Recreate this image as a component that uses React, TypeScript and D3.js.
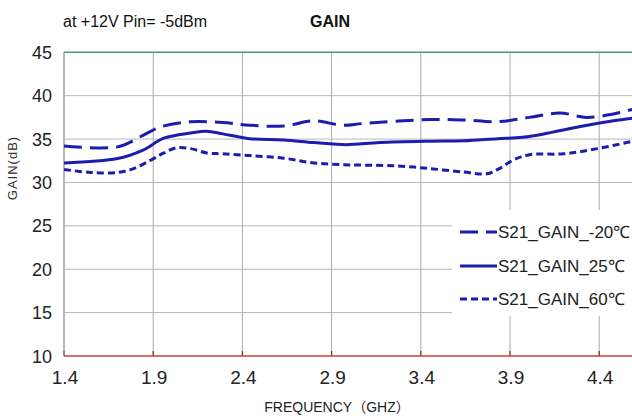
import React from "react";
import * as d3 from "d3";

const freqM20 = [1.4, 1.7, 1.84, 1.94, 2.11, 2.29, 2.44, 2.63, 2.8, 2.96, 3.08, 3.45, 3.64, 3.83, 4.01, 4.18, 4.33, 4.48, 4.6];
const gainM20 = [34.2, 34.1, 35.4, 36.4, 37.0, 36.9, 36.6, 36.5, 37.1, 36.6, 36.8, 37.25, 37.2, 37.0, 37.5, 38.0, 37.5, 37.9, 38.5];

const freq25 = [1.4, 1.7, 1.84, 1.96, 2.11, 2.2, 2.29, 2.44, 2.63, 2.8, 2.98, 3.17, 3.45, 3.64, 3.83, 3.97, 4.14, 4.31, 4.48, 4.6];
const gain25 = [32.25, 32.75, 33.7, 35.1, 35.7, 35.9, 35.6, 35.05, 34.9, 34.6, 34.35, 34.6, 34.75, 34.8, 35.05, 35.2, 35.8, 36.5, 37.1, 37.45];

const freq60 = [1.4, 1.55, 1.7, 1.79, 1.88, 1.96, 2.03, 2.11, 2.2, 2.29, 2.44, 2.63, 2.8, 2.96, 3.08, 3.27, 3.45, 3.64, 3.77, 3.84, 3.92, 4.01, 4.2, 4.39, 4.6];
const gain60 = [31.5, 31.15, 31.15, 31.6, 32.5, 33.4, 34.0, 33.9, 33.4, 33.3, 33.1, 32.8, 32.25, 32.05, 32.0, 31.9, 31.6, 31.2, 31.0, 31.6, 32.6, 33.2, 33.3, 33.9, 34.8];

const xTicks = [1.4, 1.9, 2.4, 2.9, 3.4, 3.9, 4.4];
const yTicks = [10, 15, 20, 25, 30, 35, 40, 45];
const seriesNames = ["S21_GAIN_-20\u2103", "S21_GAIN_25\u2103", "S21_GAIN_60\u2103"];

export default function App() {
  const W = 632, H = 418;
  const left = 64, top = 52.3, bottom = 356;
  const gridStep = 89.2;
  const x = d3.scaleLinear().domain([1.4, 4.6]).range([left, left + gridStep * 6.4]);
  const y = d3.scaleLinear().domain([10, 45]).range([bottom, top]);
  const line = d3.line<[number, number]>().x(d => x(d[0])).y(d => y(d[1])).curve(d3.curveCatmullRom.alpha(0.5));
  const blue = "#1c1cae";
  const series = [
    { f: freqM20, g: gainM20, dash: "18,8" },
    { f: freq25, g: gain25, dash: "none" },
    { f: freq60, g: gain60, dash: "7,4" },
  ];
  const font = "'Liberation Sans', Arial, sans-serif";
  const legX = 460, legY = [232, 266, 299];
  return (
    <svg width={W} height={H} style={{ position: "absolute", left: 0, top: 0, background: "#fff" }} fontFamily={font}>
      <rect x={0} y={0} width={W} height={H} fill="#fff" />
      {yTicks.filter(t => t > 10 && t < 45).map(t => (
        <line key={"hy" + t} x1={left} x2={W} y1={y(t)} y2={y(t)} stroke="#b8b8b8" strokeWidth={1} />
      ))}
      {xTicks.map(t => (
        <line key={"vx" + t} x1={x(t)} x2={x(t)} y1={top} y2={bottom} stroke="#aaaaaa" strokeWidth={1} />
      ))}
      {xTicks.map(t => (
        <line key={"tk" + t} x1={x(t)} x2={x(t)} y1={bottom - 5} y2={bottom} stroke="#8a2020" strokeWidth={1.2} />
      ))}
      <line x1={left} x2={left} y1={top} y2={bottom} stroke="#999" strokeWidth={1} />
      <line x1={left} x2={W} y1={y(45)} y2={y(45)} stroke="#3f9a8c" strokeWidth={1.5} />
      <line x1={left} x2={W} y1={y(10)} y2={y(10)} stroke="#d03a3a" strokeWidth={1.5} />
      {series.map((s, i) => (
        <path key={"s" + i} d={line(s.f.map((f, j) => [f, s.g[j]] as [number, number])) || ""} fill="none"
          stroke={blue} strokeWidth={3} strokeDasharray={s.dash} />
      ))}
      <rect x={452} y={210} width={200} height={106} fill="#fff" />
      {series.map((s, i) => (
        <g key={"lg" + i}>
          <line x1={legX} x2={497} y1={legY[i]} y2={legY[i]} stroke={blue} strokeWidth={3} strokeDasharray={s.dash} />
          <text x={498} y={legY[i] + 6} fontSize={17} fill="#222">{seriesNames[i]}</text>
        </g>
      ))}
      {yTicks.map(t => (
        <text key={"yl" + t} x={52} y={y(t) + 6.5} fontSize={18} textAnchor="end" fill="#222">{t}</text>
      ))}
      {xTicks.map(t => (
        <text key={"xl" + t} x={x(t) + 1} y={384} fontSize={19} textAnchor="middle" fill="#222">{t.toFixed(1)}</text>
      ))}
      <text transform={`translate(17,${168}) rotate(-90)`} fontSize={13} textAnchor="middle" fill="#333" letterSpacing={1}>GAIN(dB)</text>
      <text x={337} y={412} fontSize={14} textAnchor="middle" fill="#222">FREQUENCY<tspan fontFamily="'Noto Sans CJK SC'">（</tspan>GHZ<tspan fontFamily="'Noto Sans CJK SC'">）</tspan></text>
      <text x={63} y={27} fontSize={16} fill="#111">at +12V Pin= -5dBm</text>
      <text x={310} y={27} fontSize={16} fontWeight="bold" fill="#111">GAIN</text>
    </svg>
  );
}
